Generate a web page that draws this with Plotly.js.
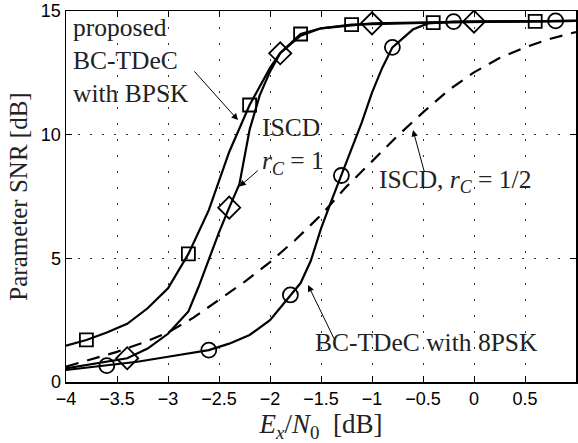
<!DOCTYPE html>
<html>
<head>
<meta charset="utf-8">
<script src="https://cdn.plot.ly/plotly-3.0.1.min.js"></script>
<style>html,body{margin:0;padding:0;background:#fff;}#chart{width:578px;height:443px;}</style>
</head>
<body>
<div id="chart"></div>
<script>
// Proposed BC-TDeC with BPSK (squares)
const bpskX = [-4, -3.8, -3.6, -3.4, -3.2, -3.0, -2.8, -2.6, -2.4, -2.2, -2.0, -1.9, -1.7, -1.5, -1.2, -0.8, -0.4, 0.1, 0.6, 1.0];
const bpskY = [1.47, 1.7, 2.0, 2.35, 2.98, 3.79, 5.18, 6.95, 9.3, 11.2, 12.7, 13.3, 14.07, 14.3, 14.45, 14.5, 14.53, 14.56, 14.58, 14.6];
const bpskMX = [-3.8, -2.8, -2.2, -1.7, -1.2, -0.4, 0.6];
const bpskMY = [1.7, 5.18, 11.2, 14.07, 14.45, 14.53, 14.58];

// ISCD, r_C = 1 (diamonds)
const iscd1X = [-4, -3.7, -3.4, -3.2, -3.0, -2.8, -2.7, -2.6, -2.5, -2.4, -2.3, -2.2, -2.1, -2.0, -1.9, -1.7, -1.5, -1.0, -0.5, 0, 0.5, 1.0];
const iscd1Y = [0.55, 0.75, 0.96, 1.35, 1.95, 2.85, 3.85, 4.95, 6.05, 7.05, 8.0, 10.2, 11.6, 12.55, 13.29, 14.0, 14.3, 14.5, 14.55, 14.57, 14.58, 14.6];
const iscd1MX = [-3.4, -2.4, -1.9, -1.0, 0.0];
const iscd1MY = [0.96, 7.05, 13.29, 14.5, 14.57];

// BC-TDeC with 8PSK (circles)
const psk8X = [-4, -3.6, -3.3, -3.0, -2.6, -2.4, -2.2, -2.0, -1.8, -1.7, -1.6, -1.5, -1.4, -1.3, -1.2, -1.1, -1.0, -0.9, -0.8, -0.6, -0.45, -0.2, 0.3, 0.8, 1.0];
const psk8Y = [0.485, 0.66, 0.82, 1.02, 1.29, 1.55, 1.9, 2.5, 3.52, 4.0, 4.9, 6.2, 7.3, 8.35, 9.4, 10.5, 11.7, 12.7, 13.53, 14.25, 14.5, 14.57, 14.58, 14.6, 14.6];
const psk8MX = [-3.6, -2.6, -1.8, -1.3, -0.8, -0.2, 0.8];
const psk8MY = [0.66, 1.29, 3.52, 8.35, 13.53, 14.57, 14.6];

// ISCD, r_C = 1/2 (dashed)
const iscdHX = [-4, -3.75, -3.5, -3.25, -3.0, -2.75, -2.5, -2.25, -2.0, -1.75, -1.5, -1.25, -1.0, -0.75, -0.5, -0.25, 0, 0.25, 0.5, 0.75, 1.0];
const iscdHY = [0.62, 0.92, 1.22, 1.58, 2.0, 2.6, 3.33, 4.05, 4.85, 5.75, 6.75, 7.9, 8.92, 9.95, 10.9, 11.8, 12.52, 13.1, 13.53, 13.88, 14.15];

const xTicks = [-4, -3.5, -3, -2.5, -2, -1.5, -1, -0.5, 0, 0.5, 1];
const yTicks = [0, 5, 10, 15];

const lineW = 2.2;
const black = '#000';
const mk = (sym, size) => ({symbol: sym, size: size, color: black, line: {color: black, width: 1.8}});

const traces = [
  {x: iscdHX, y: iscdHY, mode: 'lines', line: {color: black, width: lineW, dash: '13px,9px'}},
  {x: psk8X, y: psk8Y, mode: 'lines', line: {color: black, width: lineW}},
  {x: iscd1X, y: iscd1Y, mode: 'lines', line: {color: black, width: lineW}},
  {x: bpskX, y: bpskY, mode: 'lines', line: {color: black, width: lineW}},
  {x: psk8MX, y: psk8MY, mode: 'markers', marker: mk('circle-open', 15)},
  {x: iscd1MX, y: iscd1MY, mode: 'markers', marker: mk('diamond-open', 17)},
  {x: bpskMX, y: bpskMY, mode: 'markers', marker: mk('square-open', 13)}
];

const serif = 'Liberation Serif, Times New Roman, serif';
const txt = '#222';
const arrow = (tx, ty, hx, hy) => ({
  x: hx, y: hy, ax: tx, ay: ty, axref: 'x', ayref: 'y', xref: 'x', yref: 'y',
  text: '', showarrow: true, arrowhead: 2, arrowsize: 1.3, arrowwidth: 1, arrowcolor: black, standoff: 0
});
const label = (x, y, text) => ({
  x: x, y: y, xref: 'x', yref: 'y', text: text, showarrow: false,
  xanchor: 'left', yanchor: 'top', align: 'left', font: {family: serif, size: 25.5, color: txt}
});

const annotations = [
  label(-3.95, 15.0, 'proposed<br>BC-TDeC<br>with BPSK'),
  label(-2.1, 10.95, 'ISCD<br><i>r</i><sub><i>C</i></sub> = 1'),
  label(-0.95, 8.85, 'ISCD, <i>r</i><sub><i>C</i></sub> = 1/2'),
  label(-1.58, 2.25, 'BC-TDeC with 8PSK'),
  arrow(-2.755, 12.62, -2.314, 10.59),
  arrow(-2.105, 8.6, -2.3, 7.9),
  arrow(-0.483, 8.44, -0.598, 10.19),
  arrow(-1.366, 1.7, -1.627, 3.92)
];

const axisCommon = {
  showline: true, linecolor: black, linewidth: 1.5, mirror: 'ticks',
  ticks: 'inside', ticklen: 6, tickcolor: black, tickwidth: 1,
  showgrid: true, gridcolor: '#333', gridwidth: 1,
  zeroline: false,
  tickfont: {family: 'Liberation Sans, Arial, sans-serif', size: 18, color: black}
};

const layout = {
  width: 578, height: 443,
  margin: {l: 66, r: 2, t: 11, b: 61},
  paper_bgcolor: '#fff', plot_bgcolor: '#fff',
  showlegend: false,
  xaxis: Object.assign({}, axisCommon, {
    range: [-4, 1], tickvals: xTicks, ticktext: xTicks.map(v => (v < 0 ? '\u2212' : '') + Math.abs(v)),
    griddash: '2px,14px',
    title: {text: '<i>E</i><sub><i>x</i></sub>/<i>N</i><sub>0</sub>  [dB]', font: {family: serif, size: 27, color: txt}, standoff: 1}
  }),
  yaxis: Object.assign({}, axisCommon, {
    range: [0, 15], tickvals: yTicks, ticktext: yTicks.map(String),
    griddash: '2px,10px',
    title: {text: 'Parameter SNR [dB]', font: {family: serif, size: 25, color: txt}, standoff: 6}
  }),
  annotations: annotations
};

Plotly.newPlot('chart', traces, layout, {staticPlot: true, displayModeBar: false});
</script>
</body>
</html>
